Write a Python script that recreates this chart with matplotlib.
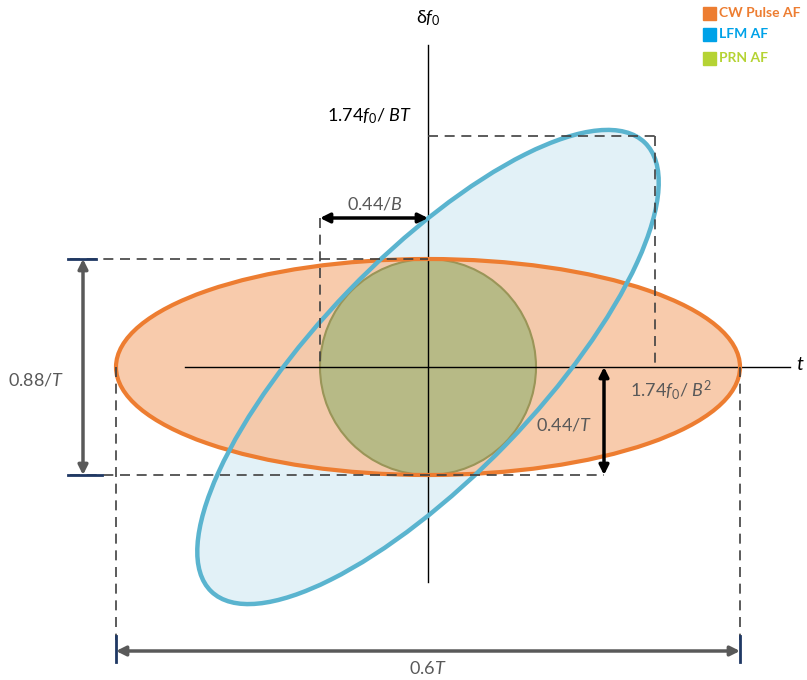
import numpy as np
import matplotlib.pyplot as plt
from matplotlib.patches import Ellipse, Circle

plt.rcParams['font.family'] = ['Lato', 'DejaVu Sans']
plt.rcParams['mathtext.fontset'] = 'custom'
plt.rcParams['mathtext.rm'] = 'Lato'
plt.rcParams['mathtext.it'] = 'Lato:italic'

# diagram geometry (pixel units, y downwards)
origin = [428, 367]
cw_axes = [312, 108]          # CW pulse ellipse semi-axes (t, df)
lfm_axes = [312, 110]         # LFM ellipse semi-axes along its tilt
lfm_angle = 46                # degrees
prn_radius = 108
bt_level = 136                # 1.74 f0 / BT
b2_pos = 655                  # 1.74 f0 / B^2

legend_names = ["CW Pulse AF", "LFM AF", "PRN AF"]
legend_colors = ["#ED7D31", "#00A2E8", "#B5D334"]
legend_y = [13, 34, 58]

gray = "#595959"
navy = "#1F3864"
dash = "#404040"

fig = plt.figure(figsize=(8.07, 6.8), dpi=100)
ax = fig.add_axes([0, 0, 1, 1])
ax.set_xlim(0, 807)
ax.set_ylim(680, 0)
ax.axis('off')

ox, oy = origin
a, b = cw_axes

# shapes
ax.add_patch(Ellipse((ox, oy), 2 * lfm_axes[0], 2 * lfm_axes[1], angle=-lfm_angle,
                     facecolor="#E2F1F7", edgecolor="none", zorder=1))
ax.add_patch(Ellipse((ox, oy), 2 * a, 2 * b, facecolor="#F7C29E", edgecolor="none",
                     alpha=0.85, zorder=2))
ax.add_patch(Circle((ox, oy), prn_radius, facecolor="#B7BA86", edgecolor="#9A9558",
                    linewidth=1.5, zorder=3))
ax.add_patch(Ellipse((ox, oy), 2 * a, 2 * b, facecolor="none", edgecolor="#ED7D31",
                     linewidth=3, zorder=5))
ax.add_patch(Ellipse((ox, oy), 2 * lfm_axes[0], 2 * lfm_axes[1], angle=-lfm_angle,
                     facecolor="none", edgecolor="#5AB4CF", linewidth=3.2, zorder=6))

# axes lines
ax.plot([ox, ox], [45, 582], color="black", lw=1, zorder=4)
ax.plot([185, 790], [oy, oy], color="black", lw=1, zorder=4)
ax.text(ox, 18, r"δ$f_0$", ha="center", va="center", fontsize=13)
ax.text(800, oy - 2, r"$t$", ha="center", va="center", fontsize=14)

# dashed guides
dkw = dict(color=dash, lw=1.2, ls=(0, (6, 4)), zorder=7)
ax.plot([70, ox], [oy - b, oy - b], **dkw)
ax.plot([70, ox + 176], [oy + b, oy + b], **dkw)
ax.plot([ox - prn_radius, ox - prn_radius], [218, oy], **dkw)
ax.plot([ox, b2_pos], [bt_level, bt_level], **dkw)
ax.plot([b2_pos, b2_pos], [bt_level, oy], **dkw)
ax.plot([ox - a, ox - a], [oy, 640], **dkw)
ax.plot([ox + a, ox + a], [oy, 640], **dkw)

# dimension arrows
def darrow(p0, p1, color, lw):
    ax.annotate("", xy=p1, xytext=p0, zorder=8,
                arrowprops=dict(arrowstyle="<|-|>", color=color, lw=lw,
                                mutation_scale=14, shrinkA=0, shrinkB=0))

darrow((ox - prn_radius, 218), (ox, 218), "black", 2.5)
darrow((604, oy), (604, oy + b), "black", 2.5)
darrow((83, oy - b), (83, oy + b), gray, 2.5)
darrow((ox - a, 651), (ox + a, 651), gray, 2.5)

ax.plot([68, 96], [oy - b, oy - b], color=navy, lw=2, zorder=9)
ax.plot([68, 102], [oy + b, oy + b], color=navy, lw=2, zorder=9)
ax.plot([ox - a, ox - a], [636, 662], color=navy, lw=2, zorder=9)
ax.plot([ox + a, ox + a], [636, 662], color=navy, lw=2, zorder=9)

# labels
ax.text(370, 116, r"1.74$f_0$/ $BT$", ha="center", va="center", fontsize=13, color="black")
ax.text(375, 204, r"0.44/$B$", ha="center", va="center", fontsize=13, color=gray, zorder=9)
ax.text(564, 425, r"0.44/$T$", ha="center", va="center", fontsize=13, color=gray, zorder=9)
ax.text(630, 390, r"1.74$f_0$/ $B^2$", ha="left", va="center", fontsize=13, color=gray, zorder=9)
ax.text(36, 380, r"0.88/$T$", ha="center", va="center", fontsize=13, color=gray)
ax.text(ox, 668, r"0.6$T$", ha="center", va="center", fontsize=13, color=gray)

# legend
for name, c, y in zip(legend_names, legend_colors, legend_y):
    ax.add_patch(plt.Rectangle((703, y - 6), 13, 13, color=c, zorder=9))
    ax.text(719, y, name, ha="left", va="center", fontsize=10, fontweight="bold", color=c)

fig.savefig("out.png", dpi=100)
